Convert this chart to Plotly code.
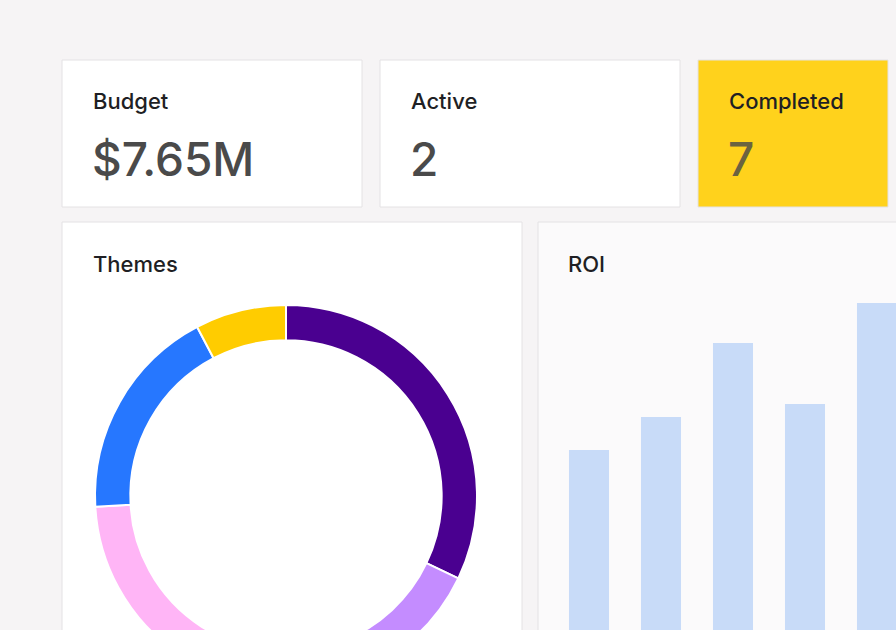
import plotly.graph_objects as go

W, H = 896, 700

kpi_labels = ["Budget", "Active", "Completed"]
kpi_values = ["$7.65M", "2", "7"]

theme_names = ["Theme A", "Theme B", "Theme C", "Theme D", "Theme E"]
theme_values = [32.1, 12, 30, 18.2, 7.7]
theme_colors = ["#4a0090", "#c48cff", "#ffb5f6", "#2677ff", "#ffcc00"]

roi_cats = ["Q1", "Q2", "Q3", "Q4", "Q5"]
roi_values = [2.50, 2.83, 3.57, 2.96, 3.97]

def px(x): return x / W
def py(y): return 1 - y / H

fig = go.Figure()

def card(x0, y0, x1, y1, fill="white"):
    fig.add_shape(type="rect", xref="paper", yref="paper",
                  x0=px(x0), x1=px(x1), y0=py(y1), y1=py(y0),
                  fillcolor=fill, line=dict(color="#e4e2e4", width=1), layer="below")

card(62, 60, 362, 207)
card(380, 60, 680, 207)
card(698, 60, 888, 207, "#ffd21c")
card(62, 222, 522, 720)
card(538, 222, 920, 720, "#fbfafb")

kx = [94, 412, 730]
for i in range(3):
    fig.add_annotation(xref="paper", yref="paper", x=px(kx[i] - 3), y=py(101), text=kpi_labels[i],
                       showarrow=False, xanchor="left", yanchor="middle",
                       font=dict(family="Inter", size=22, weight=500, color="#1f1f24"))
    fig.add_annotation(xref="paper", yref="paper", x=px(kx[i] - 4), y=py(159), text=kpi_values[i],
                       showarrow=False, xanchor="left", yanchor="middle",
                       font=dict(family="Inter", size=46, weight=500, color="#4a4a4a" if i < 2 else "#6b6340"))
for t, x in [("Themes", 94), ("ROI", 569)]:
    fig.add_annotation(xref="paper", yref="paper", x=px(x - 3), y=py(264), text=t,
                       showarrow=False, xanchor="left", yanchor="middle",
                       font=dict(family="Inter", size=22, weight=500, color="#1f1f24"))

fig.add_trace(go.Pie(labels=theme_names, values=theme_values, hole=0.815, sort=False,
                     direction="clockwise", rotation=0, textinfo="none", showlegend=False,
                     marker=dict(colors=theme_colors, line=dict(color="white", width=2)),
                     domain=dict(x=[px(95), px(477)], y=[py(687), py(305)])))

fig.add_trace(go.Bar(x=list(range(5)), y=roi_values, width=0.556, showlegend=False,
                     marker=dict(color="#c8dbf8", line=dict(width=0)), hoverinfo="y"))

fig.update_layout(
    width=W, height=H, margin=dict(l=0, r=0, t=0, b=0),
    paper_bgcolor="#f6f4f5", plot_bgcolor="rgba(0,0,0,0)",
    xaxis=dict(domain=[px(553), 1], range=[-0.5, -0.5 + (896 - 553) / 72], visible=False),
    yaxis=dict(domain=[0, 1], range=[0, 7.0], visible=False),
)

fig.write_html("out.html", config={"displayModeBar": False})
with open("out.html") as f:
    s = f.read()
s = s.replace("<head>", "<head><style>html,body{margin:0;padding:0;overflow:hidden}</style>", 1)
with open("out.html", "w") as f:
    f.write(s)
